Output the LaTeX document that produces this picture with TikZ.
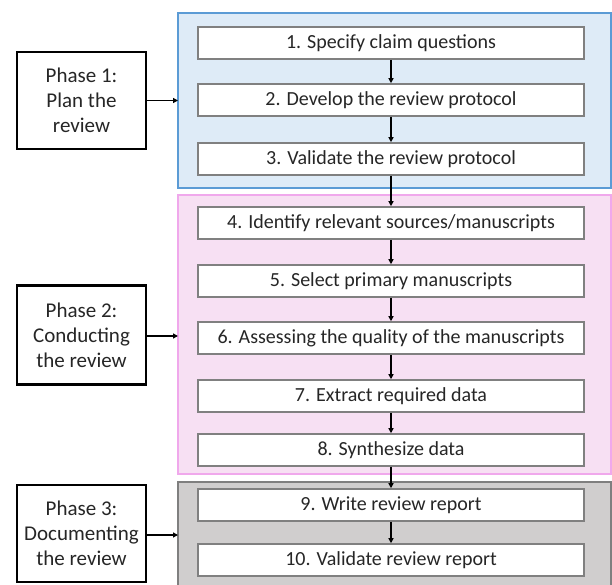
\documentclass[tikz,border=0pt]{standalone}
\usepackage{fontspec}
\setmainfont{Carlito}
\usetikzlibrary{arrows.meta}
\definecolor{planfill}{HTML}{DEEBF7}
\definecolor{planline}{HTML}{5B9BD5}
\definecolor{condfill}{HTML}{F7E0F3}
\definecolor{condline}{HTML}{F0A8EC}
\definecolor{docfill}{HTML}{D0CECE}
\definecolor{docline}{HTML}{7F7F7F}
\definecolor{stepline}{HTML}{808080}
\definecolor{txt}{HTML}{262626}
\begin{document}
\begin{tikzpicture}[x=1pt,y=-1pt,
  stepbox/.style={draw=stepline,line width=1.6pt,fill=white,minimum width=386pt,
    minimum height=32pt,inner sep=0pt,font=\fontsize{20}{24}\selectfont,text=txt},
  phasebox/.style={draw=black,line width=2.2pt,fill=white,minimum width=129pt,
    minimum height=97pt,inner sep=0pt,align=center,
    font=\fontsize{21}{25}\selectfont,text=txt},
  flow/.style={-{Triangle[length=5pt,width=5pt]},line width=1.6pt,black}]
\useasboundingbox (0,0) rectangle (612,585);
% phase panels
\fill[docfill] (178,482) rectangle (611,586);
\draw[docline,line width=1.8pt] (178,586) -- (178,482) -- (611,482) -- (611,586);
\draw[planline,line width=1.8pt,fill=planfill] (178,13) rectangle (611,188);
\draw[condline,line width=1.8pt,fill=condfill] (178,195) rectangle (611,474);
% steps
\node[stepbox] (s1) at (391,43) {1. Specify claim questions};
\node[stepbox] (s2) at (391,100) {2. Develop the review protocol};
\node[stepbox] (s3) at (391,159) {3. Validate the review protocol};
\node[stepbox] (s4) at (391,223) {4. Identify relevant sources/manuscripts};
\node[stepbox] (s5) at (391,281) {5. Select primary manuscripts};
\node[stepbox] (s6) at (391,338) {6. Assessing the quality of the manuscripts};
\node[stepbox] (s7) at (391,396) {7. Extract required data};
\node[stepbox] (s8) at (391,450) {8. Synthesize data};
\node[stepbox] (s9) at (391,505) {9. Write review report};
\node[stepbox] (s10) at (391,560) {10. Validate review report};
\foreach \a/\b in {s1/s2,s2/s3,s3/s4,s4/s5,s5/s6,s6/s7,s7/s8,s8/s9,s9/s10}
  \draw[flow] (\a) -- (\b);
% phase labels
\node[phasebox] (p1) at (81.5,100.5) {Phase 1:\\Plan the\\review};
\node[phasebox,minimum height=99pt] (p2) at (81.5,335) {Phase 2:\\Conducting\\the review};
\node[phasebox] (p3) at (81.5,533.5) {Phase 3:\\Documenting\\the review};
\coordinate (c1) at (178,100.5);
\coordinate (c2) at (178,336);
\coordinate (c3) at (178,535);
\draw[flow] (p1.east) -- (c1);
\draw[flow] (p2.east |- c2) -- (c2);
\draw[flow] (p3.east |- c3) -- (c3);
\end{tikzpicture}
\end{document}
